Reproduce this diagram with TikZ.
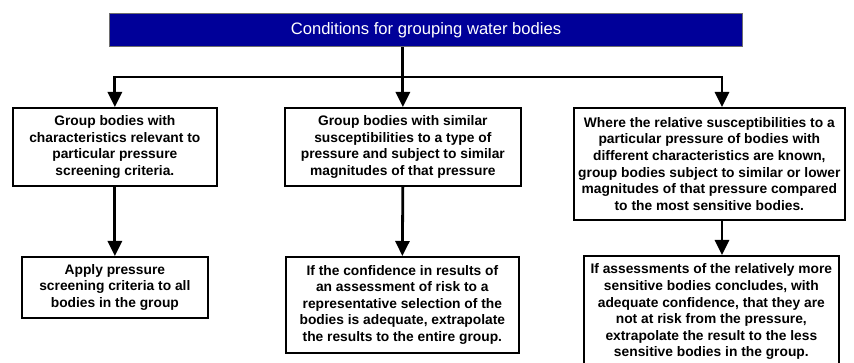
\documentclass[tikz,border=0pt]{standalone}
\usepackage{fontspec}
\setmainfont{Liberation Sans}
\usetikzlibrary{arrows.meta}
\definecolor{navy}{RGB}{0,0,153}
\definecolor{rimgray}{RGB}{110,110,110}
\begin{document}
\begin{tikzpicture}[x=1pt,y=-1pt,
  boxtext/.style={draw=black, line width=1.7pt, fill=white, inner sep=0pt,
    align=center, anchor=north west,
    font=\bfseries\fontsize{13.8}{16.6}\selectfont},
  header/.style={draw=rimgray, line width=1pt, fill=navy, text=white,
    inner sep=0pt, anchor=north west,
    font=\fontsize{16.6}{19}\selectfont},
  conn/.style={draw=black, line width=2.8pt},
  tip/.style={-{Triangle[width=14pt,length=15pt]}},
  tips/.style={{Triangle[width=14pt,length=15pt]}-{Triangle[width=14pt,length=15pt]}}]
  \clip (0,0) rectangle (854,363);
  \fill[white] (0,0) rectangle (854,363);

  % title banner
  \node[header, minimum width=633pt, minimum height=33pt] (hdr) at (109,13)
    {Conditions for grouping water bodies};

  % first row
  \node[boxtext, minimum width=204pt, minimum height=78pt] (b1) at (12,107)
    {Group bodies with\\characteristics relevant to\\particular pressure\\screening criteria.};
  \node[boxtext, minimum width=236pt, minimum height=78pt] (b2) at (284,107)
    {Group bodies with similar\\susceptibilities to a type of\\pressure and subject to similar\\magnitudes of that pressure};
  \node[boxtext, minimum width=271pt, minimum height=112pt] (b3) at (573,107)
    {Where the relative susceptibilities to a\\particular pressure of bodies with\\different characteristics are known,\\group bodies subject to similar or lower\\magnitudes of that pressure compared\\to the most sensitive bodies.};

  % second row
  \node[boxtext, minimum width=186pt, minimum height=61pt] (b4) at (21,256)
    {Apply pressure\\screening criteria to all\\bodies in the group};
  \node[boxtext, minimum width=233pt, minimum height=96pt] (b5) at (285,256)
    {If the confidence in results of\\an assessment of risk to a\\representative selection of the\\bodies is adequate, extrapolate\\the results to the entire group.};
  \node[boxtext, minimum width=255pt, minimum height=112pt] (b6) at (583,255)
    {If assessments of the relatively more\\sensitive bodies concludes, with\\adequate confidence, that they are\\not at risk from the pressure,\\extrapolate the result to the less\\sensitive bodies in the group.};

  % distribution bus
  \coordinate (busR) at (722,77);
  \draw[conn, tips] (b1.north) |- (busR) -- (busR |- b3.north);
  \draw[conn, tip] (hdr.south -| b2.north) -- (b2.north);

  % links to the second row
  \draw[conn, tip] (b1.south) -- (b4.north);
  \draw[conn, tip] (b2.south) -- (b5.north);
  \draw[conn, tip] (b3.south -| busR) -- (b6.north -| busR);
\end{tikzpicture}
\end{document}
